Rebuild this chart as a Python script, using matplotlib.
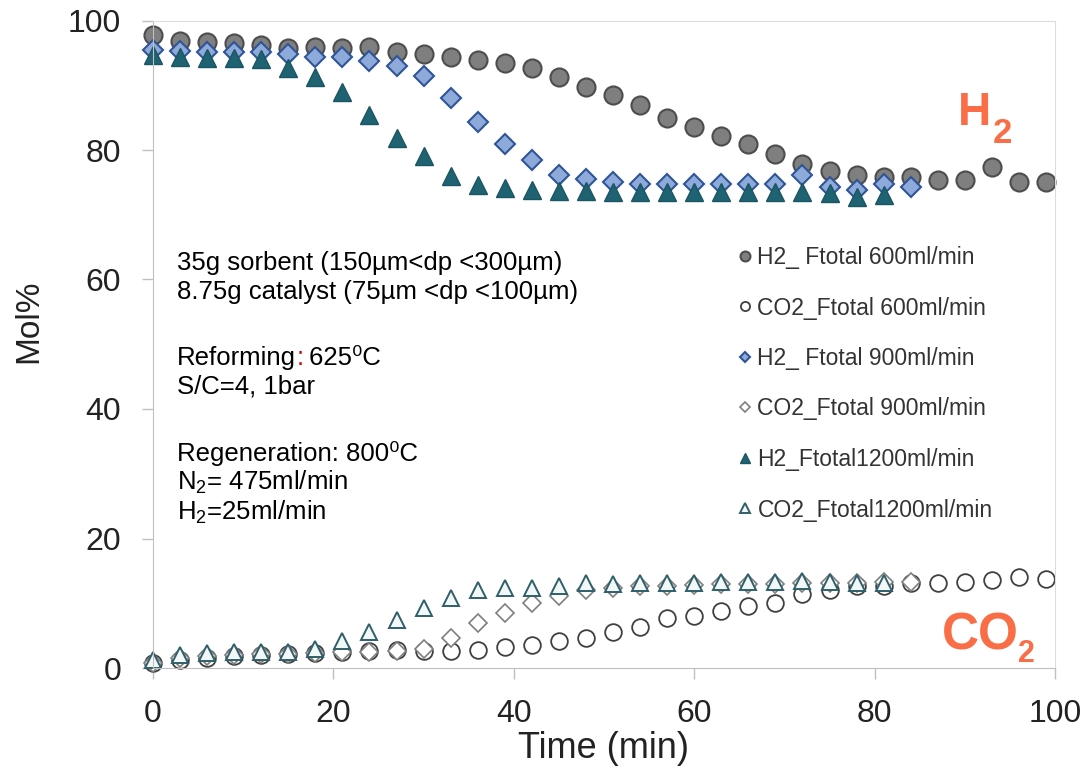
"""
Composicion de gas H2 / CO2 vs tiempo para distintos caudales totales
"""

import numpy as np
import matplotlib
matplotlib.use('Agg')
import matplotlib.pyplot as plt

plt.rcParams['font.family'] = ['Liberation Sans', 'DejaVu Sans']
plt.rcParams['mathtext.fontset'] = 'custom'
plt.rcParams['mathtext.rm'] = 'Liberation Sans'
plt.rcParams['mathtext.it'] = 'Liberation Sans:italic'
plt.rcParams['mathtext.bf'] = 'Liberation Sans:bold'

# Datos (cada 3 min)
t_600 = np.arange(0, 100, 3)     # 0..99
t_900 = np.arange(0, 85, 3)      # 0..84
t_1200 = np.arange(0, 82, 3)     # 0..81

h2_600 = [97.8, 96.9, 96.7, 96.6, 96.2, 95.7, 95.9, 95.7, 95.9, 95.2,
          94.9, 94.3, 93.9, 93.4, 92.6, 91.3, 89.8, 88.5, 87.0, 84.9,
          83.5, 82.1, 80.9, 79.4, 77.9, 76.7, 76.1, 75.9, 75.9, 75.3,
          75.4, 77.4, 75.1, 75.1]
co2_600 = [0.8, 1.3, 1.6, 1.8, 2.0, 2.1, 2.3, 2.4, 2.7, 2.8,
           2.7, 2.6, 2.8, 3.2, 3.6, 4.2, 4.7, 5.5, 6.4, 7.7,
           8.1, 8.8, 9.6, 10.1, 11.4, 12.0, 12.6, 12.7, 13.1, 13.1,
           13.3, 13.6, 14.1, 13.7]

h2_900 = [95.5, 95.3, 95.2, 95.2, 95.1, 94.9, 94.3, 94.3, 93.8, 92.9,
          91.4, 88.0, 84.4, 81.0, 78.5, 76.1, 75.5, 75.1, 74.8, 74.8,
          74.8, 74.8, 74.8, 74.8, 76.1, 74.3, 73.8, 74.8, 74.3]
co2_900 = [0.8, 1.5, 1.8, 2.0, 2.1, 2.2, 2.3, 2.4, 2.5, 2.6,
           3.0, 4.6, 6.9, 8.5, 10.1, 11.1, 12.0, 12.4, 12.6, 12.7,
           12.8, 12.9, 12.9, 13.0, 13.1, 13.2, 13.2, 13.3, 13.3]

h2_1200 = [94.6, 94.4, 94.2, 94.2, 94.1, 92.6, 91.3, 88.9, 85.4, 81.8,
           79.0, 76.0, 74.6, 74.1, 73.8, 73.6, 73.6, 73.5, 73.5, 73.5,
           73.5, 73.5, 73.5, 73.5, 73.5, 73.4, 72.7, 73.0]
co2_1200 = [1.2, 2.0, 2.3, 2.5, 2.5, 2.5, 2.9, 4.1, 5.6, 7.4,
            9.2, 10.8, 12.0, 12.3, 12.4, 12.6, 13.1, 13.0, 13.1, 13.2,
            13.2, 13.3, 13.3, 13.3, 13.4, 13.3, 13.2, 13.2]

labels = ['H2_ Ftotal 600ml/min', 'CO2_Ftotal 600ml/min',
          'H2_ Ftotal 900ml/min', 'CO2_Ftotal 900ml/min',
          'H2_Ftotal1200ml/min', 'CO2_Ftotal1200ml/min']

naranja = '#F96E46'
gris_eje = '#BFBFBF'

fig = plt.figure(figsize=(10.88, 7.73), dpi=100)
W, H = 1088, 773
x0, x1, y0, y1 = 153, 1055, 668, 20.5
ax = fig.add_axes([x0 / W, 1 - y0 / H, (x1 - x0) / W, (y0 - y1) / H])

ms = 13
ax.plot(t_600, h2_600, 'o', ms=ms, mfc='#7F7F7F', mec='#4D4D4D', mew=1.5,
        label=labels[0], clip_on=False)
ax.plot(t_600, co2_600, 'o', ms=ms - 1, mfc='white', mec='#404040', mew=1.3,
        label=labels[1], clip_on=False)
ax.plot(t_900, h2_900, 'D', ms=ms - 3, mfc='#8EAADB', mec='#2F5597', mew=1.5,
        label=labels[2], clip_on=False)
ax.plot(t_900, co2_900, 'D', ms=ms - 4, mfc='white', mec='#7F7F7F', mew=1.2,
        label=labels[3], clip_on=False)
ax.plot(t_1200, h2_1200, '^', ms=ms, mfc='#1F6373', mec='#1A5563', mew=1.0,
        label=labels[4], clip_on=False)
ax.plot(t_1200, co2_1200, '^', ms=ms - 1, mfc='#F2F8F8', mec='#2F5F6A', mew=1.4,
        label=labels[5], clip_on=False)

ax.set_xlim(0, 100)
ax.set_ylim(0, 100)
ax.set_xticks(np.arange(0, 101, 20))
ax.set_yticks(np.arange(0, 101, 20))
ax.tick_params(axis='both', labelsize=23, length=8, width=1, color=gris_eje,
               labelcolor='#222222', direction='out')
ax.tick_params(axis='y', pad=15)
ax.tick_params(axis='x', pad=14)
for lado in ['left', 'bottom']:
    ax.spines[lado].set_color(gris_eje)
for lado in ['top', 'right']:
    ax.spines[lado].set_color('#DDDDDD')

ax.set_ylabel('Mol%', fontsize=24, color='#222222')
ax.set_xlabel('Time (min)', fontsize=26, color='#222222')
ax.yaxis.set_label_coords((44 - x0) / (x1 - x0), (y0 - 321) / (y0 - y1))
ax.xaxis.set_label_coords(0.5, (y0 - 731) / (y0 - y1))

# Etiquetas grandes H2 / CO2
ax.text(89.25, 83.86, 'H', fontsize=33, fontweight='bold', color=naranja,
        va='baseline')
ax.text(93.1, 81.1, '2', fontsize=25, fontweight='bold', color=naranja,
        va='baseline')
ax.text(87.47, 2.78, 'CO', fontsize=37, fontweight='bold', color=naranja,
        va='baseline')
ax.text(95.9, 0.93, '2', fontsize=22, fontweight='bold', color=naranja,
        va='baseline')

# Condiciones experimentales
fs = 18.5
xt = 2.7
ax.text(xt, 62.5, '35g sorbent (150µm<dp <300µm)', fontsize=fs, va='center')
ax.text(xt, 58.1, '8.75g catalyst (75µm <dp <100µm)', fontsize=fs, va='center')
t_ref = ax.text(xt, 47.9, 'Reforming', fontsize=fs, va='center')
t_dp = ax.annotate(':', xy=(1, 0), xycoords=t_ref, fontsize=fs, va='bottom',
                   ha='left', color='#D00000')
ax.annotate(' 625\u2070C', xy=(1, 0), xycoords=t_dp, xytext=(-1, 0),
            textcoords='offset points', fontsize=fs, va='bottom', ha='left')
ax.text(xt, 43.4, 'S/C=4, 1bar', fontsize=fs, va='center')
ax.text(xt, 33.2, 'Regeneration: 800\u2070C', fontsize=fs, va='center')
ax.text(xt, 28.7, r'N$_2$= 475ml/min', fontsize=fs, va='center')
ax.text(xt, 24.0, r'H$_2$=25ml/min', fontsize=fs, va='center')

leg = ax.legend(loc='upper left', bbox_to_anchor=(738 / W, 1 - 246 / H),
                bbox_transform=fig.transFigure, frameon=False, fontsize=16.5,
                markerscale=0.55, handlelength=0.6, handletextpad=0.25,
                labelspacing=1.2, borderpad=0, borderaxespad=0)
for txt in leg.get_texts():
    txt.set_color('#333333')

fig.savefig('out.png', dpi=100)
plt.close(fig)
